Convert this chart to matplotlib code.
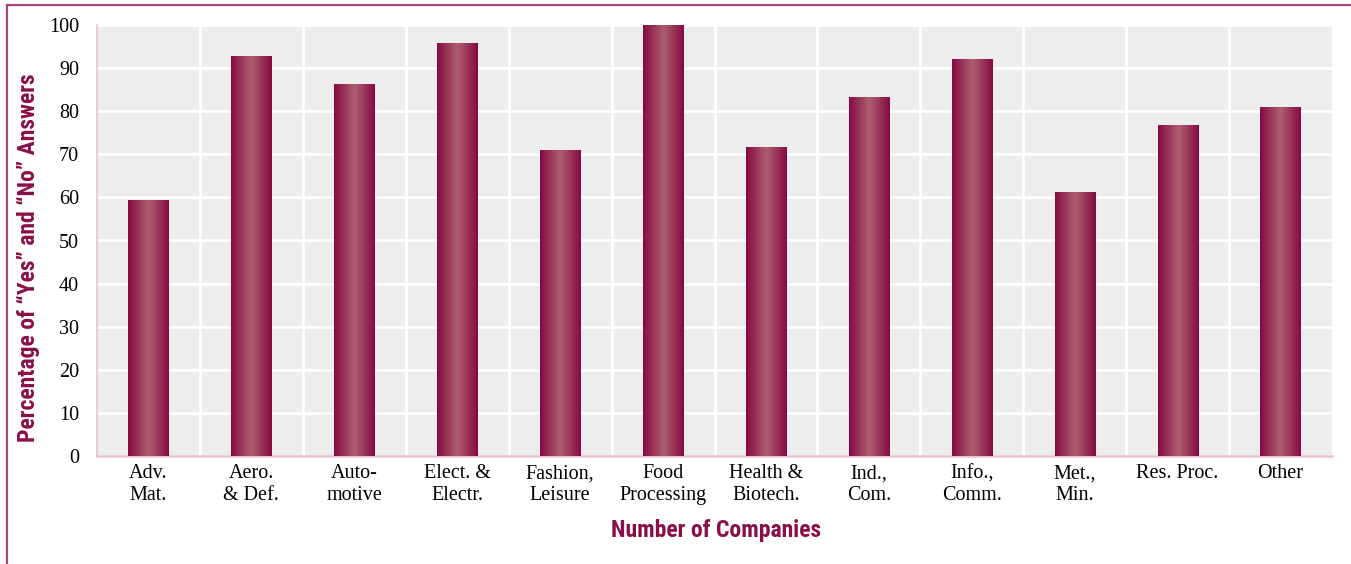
import numpy as np
import matplotlib
matplotlib.use('Agg')
import matplotlib.pyplot as plt
from matplotlib.colors import LinearSegmentedColormap
from matplotlib.lines import Line2D

sectors = [
    'Adv.\nMat.', 'Aero.\n& Def.', 'Auto-\nmotive', 'Elect. &\nElectr.',
    'Fashion,\nLeisure', 'Food\nProcessing', 'Health &\nBiotech.', 'Ind.,\nCom.',
    'Info.,\nComm.', 'Met.,\nMin.', 'Res. Proc.', 'Other',
]
pct_yes_no = [59.2, 92.6, 86.2, 95.8, 70.8, 100, 71.5, 83.2, 92.1, 61.2, 76.6, 80.8]

MAROON = '#8a0f48'
DARK = '#860a45'
LIGHT = '#ad5f70'

label_font = dict(family=['Roboto Condensed', 'DejaVu Sans'], stretch='condensed',
                  weight='bold', size=17, color=MAROON)
tick_font = ['Liberation Serif', 'DejaVu Serif']

fig = plt.figure(figsize=(13.51, 5.64), dpi=100)
ax = fig.add_axes([97 / 1351, 108 / 564, 1235 / 1351, 431 / 564])
ax.set_facecolor('#ededed')

x = np.arange(len(sectors))
width = 0.39
bars = ax.bar(x, pct_yes_no, width, color=DARK, zorder=2)

# cylinder shading: dark edges, light centre
shade = LinearSegmentedColormap.from_list('shade', [DARK, LIGHT, DARK])
grad = np.linspace(0, 1, 256).reshape(1, -1)
for b in bars:
    x0 = b.get_x()
    ax.imshow(grad, cmap=shade, aspect='auto', zorder=3,
              extent=[x0, x0 + b.get_width(), 0, b.get_height()])

ax.set_xlim(-0.5, len(sectors) - 0.5)
ax.set_ylim(0, 100)
ax.set_yticks(np.arange(0, 101, 10))
ax.set_xticks(x, sectors)
ax.set_xticks(x[:-1] + 0.5, minor=True)

ax.grid(True, axis='y', which='major', color='white', lw=2, zorder=1)
ax.grid(True, axis='x', which='minor', color='white', lw=2, zorder=1)
ax.set_axisbelow(True)

for s in ['top', 'right']:
    ax.spines[s].set_visible(False)
ax.spines['left'].set_color('#e6c3cf')
ax.spines['left'].set_linewidth(1.2)
ax.spines['bottom'].set_color('#e6c3cf')
ax.spines['bottom'].set_linewidth(1.8)

ax.tick_params(axis='both', which='both', length=0)
ax.tick_params(axis='y', pad=13)
ax.tick_params(axis='x', pad=6)
for lab in ax.get_yticklabels():
    lab.set_fontfamily(tick_font)
    lab.set_fontsize(14.5)
for lab in ax.get_xticklabels():
    lab.set_fontfamily(tick_font)
    lab.set_fontsize(14.5)
    lab.set_linespacing(1.2)

fig.text(28 / 1351, 1 - 258 / 564, 'Percentage of “Yes” and “No” Answers',
         rotation=90, ha='center', va='center', **label_font)
fig.text(716 / 1351, 1 - 531 / 564, 'Number of Companies',
         ha='center', va='center', **label_font)

# page frame along the top and left edge
fig.add_artist(Line2D([7 / 1351, 1], [1 - 5 / 564] * 2, color='#a8457a', lw=1.6))
fig.add_artist(Line2D([7 / 1351] * 2, [0, 1 - 5 / 564], color='#a8457a', lw=1.6))

fig.savefig('out.png', dpi=100)
